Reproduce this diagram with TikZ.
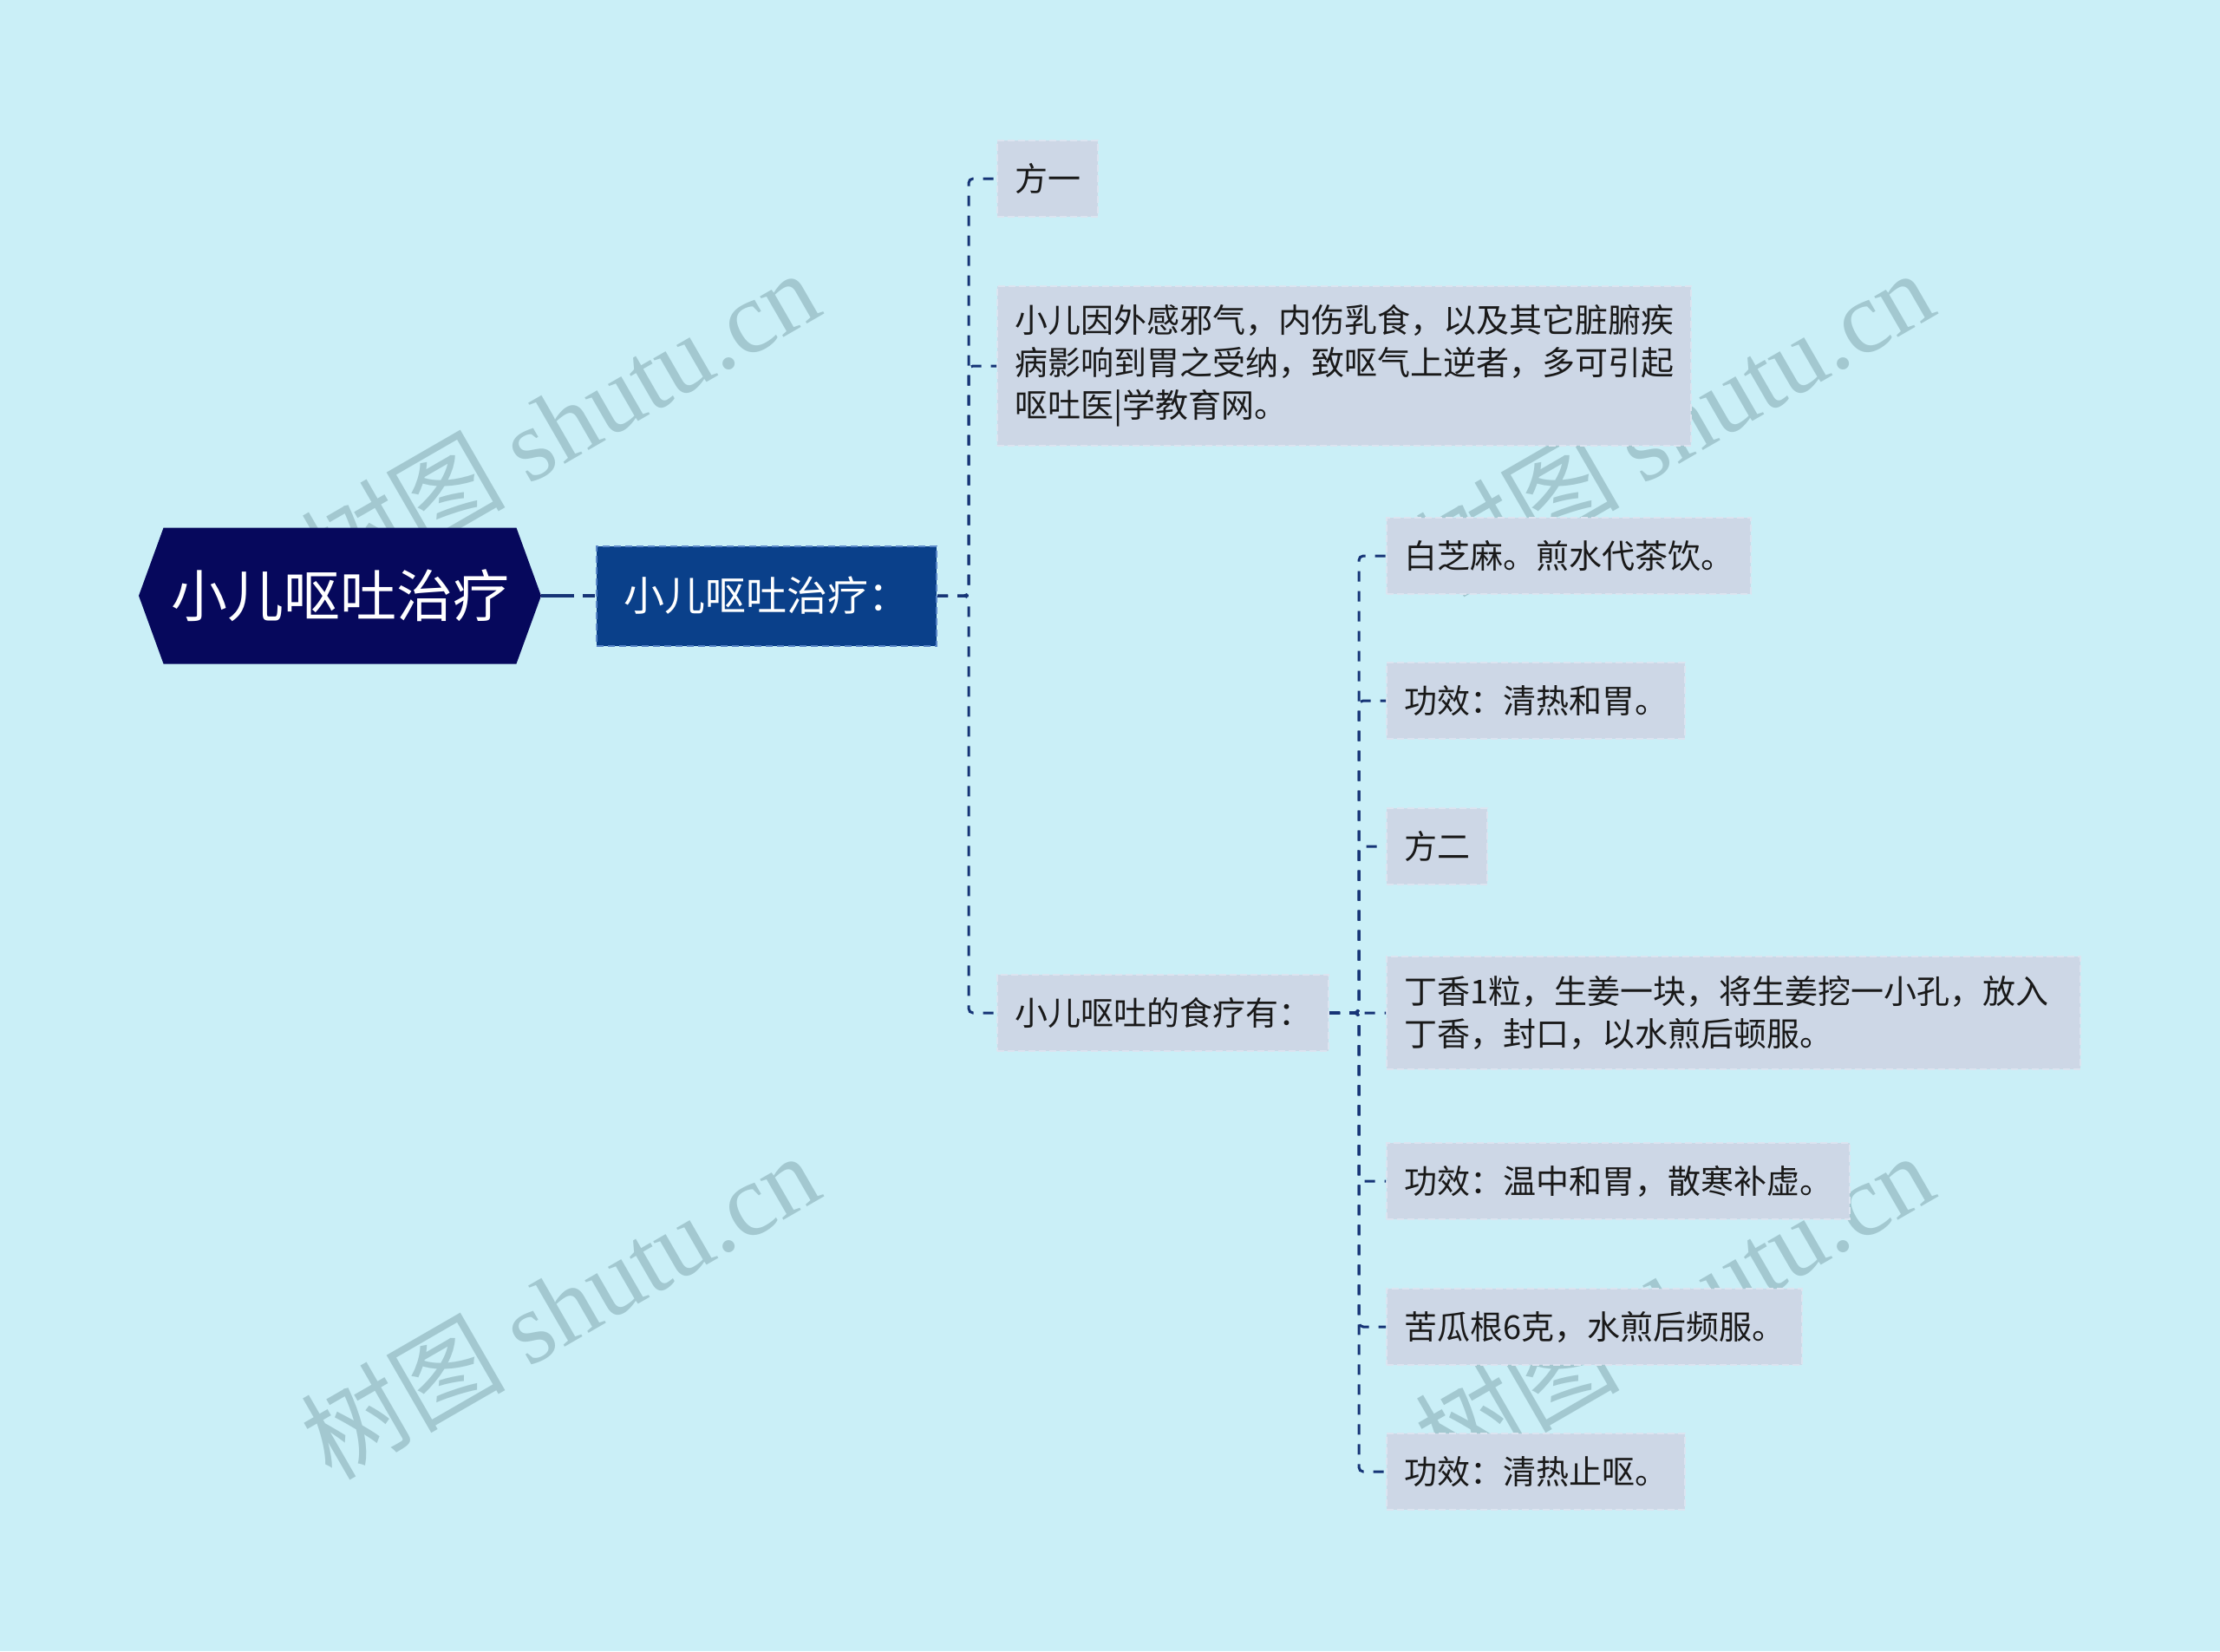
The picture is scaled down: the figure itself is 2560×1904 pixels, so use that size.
\documentclass[tikz,border=0pt]{standalone}
\usepackage{fontspec}
\setmainfont{Noto Sans CJK SC}
\newfontfamily\wmfont{Liberation Serif}
\usetikzlibrary{shapes.symbols}
\definecolor{bgc}{RGB}{202,239,247}
\definecolor{rootc}{RGB}{6,8,92}
\definecolor{subc}{RGB}{10,64,138}
\definecolor{subb}{RGB}{90,135,200}
\definecolor{leaff}{RGB}{205,215,230}
\definecolor{leafb}{RGB}{220,228,240}
\definecolor{lc}{RGB}{22,52,118}
\definecolor{txt}{RGB}{25,25,25}
\definecolor{wmc}{RGB}{150,188,196}
\tikzset{
  conn/.style={draw=lc, line width=3pt, dash pattern=on 12pt off 11pt, rounded corners=5pt},
  rootconn/.style={draw=lc, line width=4pt, dash pattern=on 38pt off 10pt on 14pt off 4pt},
  rootbox/.style={shape=signal, signal to=west and east, signal pointer angle=140,
    minimum width=464pt, minimum height=157pt, inner sep=0pt, fill=rootc, text=white,
    font=\fontsize{65}{65}\selectfont},
  subbox/.style={rectangle, anchor=west, minimum width=392pt, minimum height=115pt, inner sep=0pt,
    fill=subc, draw=subb, line width=2pt, dash pattern=on 8pt off 5pt, text=white,
    font=\fontsize{47}{47}\selectfont},
  leaf/.style={rectangle, anchor=west, fill=leaff, draw=leafb, line width=2pt, dash pattern=on 8pt off 4pt,
    inner xsep=20pt, inner ysep=22pt, minimum height=88pt, text=txt, align=left,
    font=\fontsize{38}{49}\selectfont},
  wm/.style={text=wmc, opacity=0.75, rotate=30, font=\fontsize{118}{118}\selectfont}
}
\begin{document}
\begin{tikzpicture}[x=1pt,y=-1pt]
\fill[bgc] (0,0) rectangle (2560,1904);
\useasboundingbox (0,0) rectangle (2560,1904);

% watermarks
\node[wm] (wm1) at (645,487) {树图 {\wmfont shutu.cn}};
\node[wm] (wm2) at (1930,487) {树图 {\wmfont shutu.cn}};
\node[wm] (wm3) at (645,1505) {树图 {\wmfont shutu.cn}};
\node[wm] (wm4) at (1930,1505) {树图 {\wmfont shutu.cn}};

% nodes
\node[rootbox] (root) at (392,687) {小儿呕吐治疗};
\node[subbox] (sub) at (687,687) {小儿呕吐治疗：};

\node[leaf] (f1) at (1149,206) {方一};
\node[leaf] (para) at (1149,422) {小儿因外感邪气，内伤乳食，以及其它脏腑疾\\病影响到胃之受纳，致呕气上逆者，多可引起\\呕吐医|学教育网。};
\node[leaf] (food) at (1149,1168) {小儿呕吐的食疗有：};

\node[leaf] (c1) at (1598,641) {白芝麻。煎水代茶饮。};
\node[leaf] (c2) at (1598,808) {功效：清热和胃。};
\node[leaf] (c3) at (1598,976) {方二};
\node[leaf, text width=760pt] (c4) at (1598,1168) {丁香1粒，生姜一块，将生姜挖一小孔，放入\\丁香，封口，以水煎后顿服。};
\node[leaf] (c5) at (1598,1362) {功效：温中和胃，散寒补虚。};
\node[leaf] (c6) at (1598,1530) {苦瓜根6克，水煎后频服。};
\node[leaf] (c7) at (1598,1697) {功效：清热止呕。};

% connectors
\draw[rootconn] (root.east) -- (sub.west);
\foreach \c in {f1,para,food}
  \draw[conn] (sub.east) -- ++(36,0) |- (\c.west);
\foreach \c in {c1,c2,c3,c4,c5,c6,c7}
  \draw[conn] (food.east) -- ++(34,0) |- (\c.west);
\end{tikzpicture}
\end{document}
